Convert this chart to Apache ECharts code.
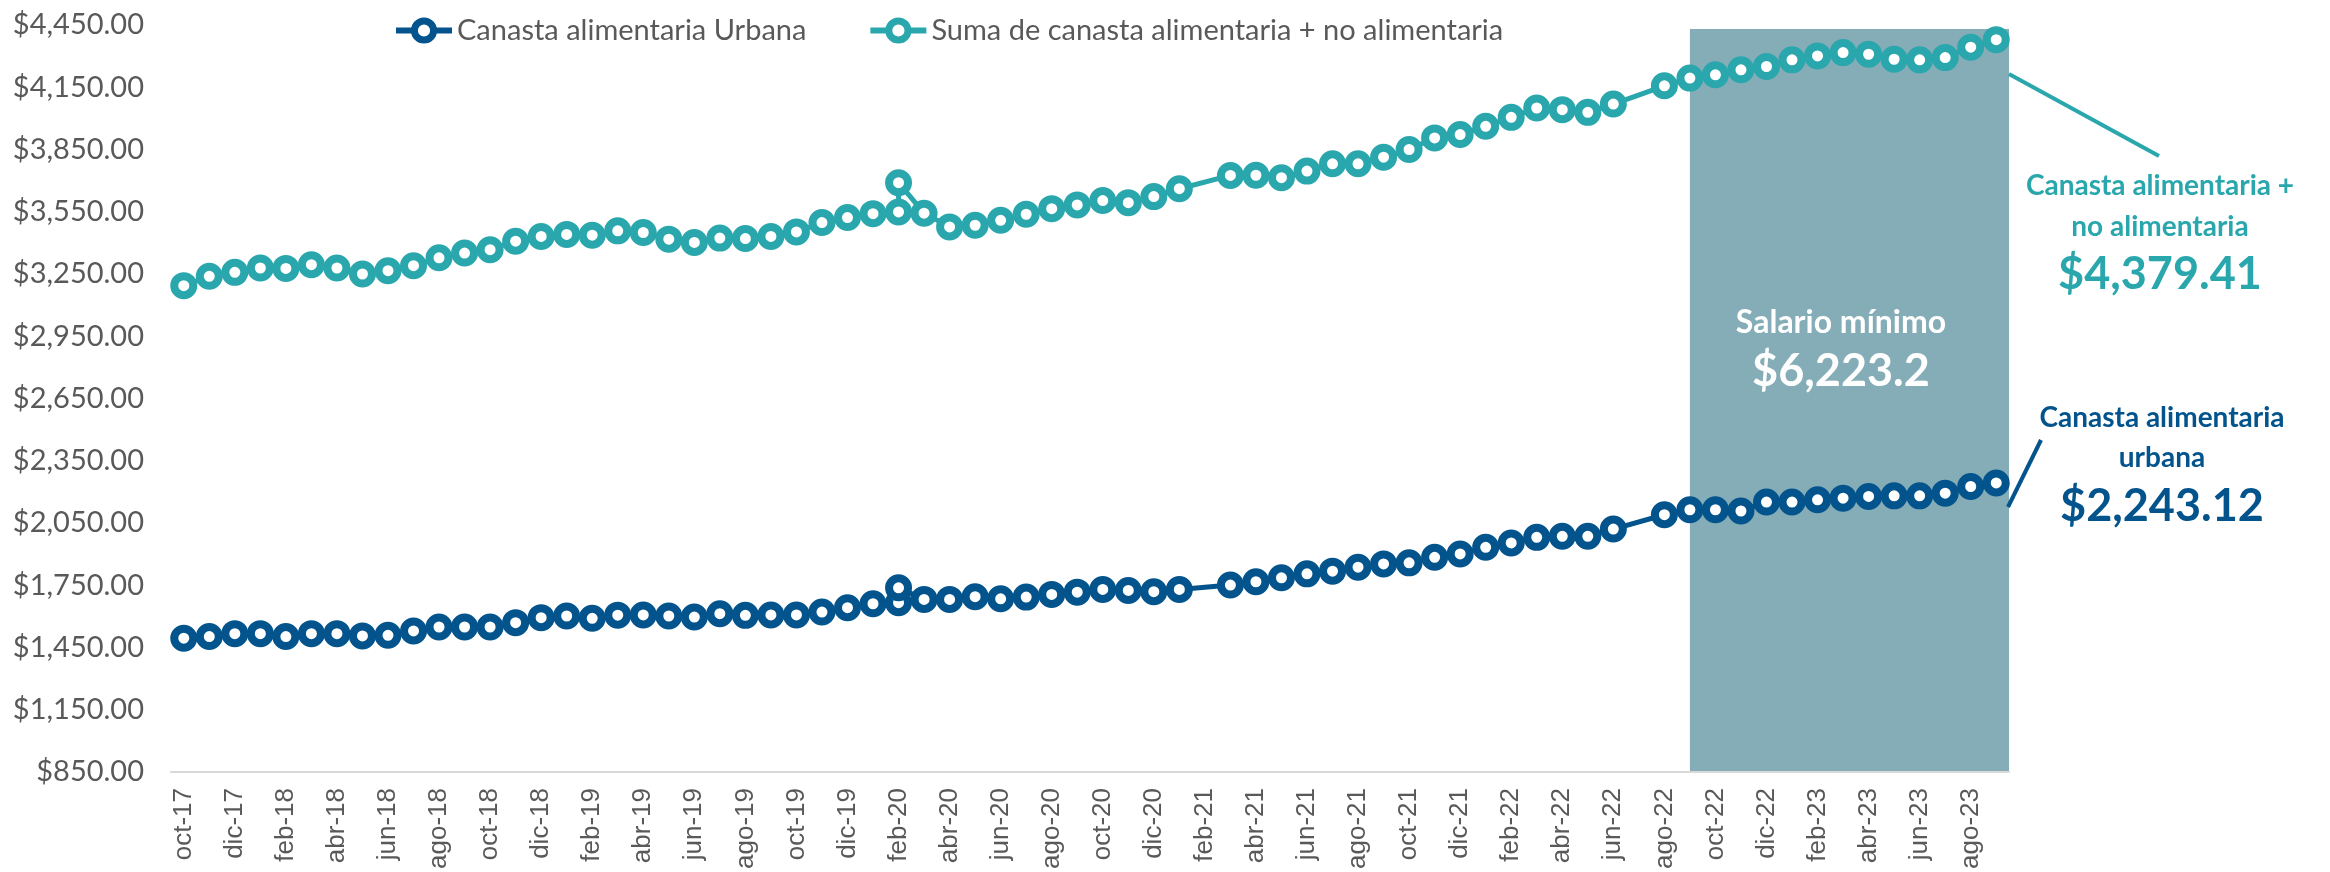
<!DOCTYPE html>
<html>
<head>
<meta charset="utf-8">
<script src="https://cdn.jsdelivr.net/npm/echarts@6/dist/echarts.min.js"></script>
<style>
html,body{margin:0;padding:0;background:#fff;}
#chart{width:2330px;height:872px;}
</style>
</head>
<body>
<div id="chart"></div>
<script>
var chart = echarts.init(document.getElementById('chart'));

// meses del eje (uno por categoria)
var meses = ['oct-17','nov-17','dic-17','ene-18','feb-18','mar-18','abr-18','may-18','jun-18','jul-18','ago-18','sep-18',
    'oct-18','nov-18','dic-18','ene-19','feb-19','mar-19','abr-19','may-19','jun-19','jul-19','ago-19','sep-19',
    'oct-19','nov-19','dic-19','ene-20','feb-20','mar-20','abr-20','may-20','jun-20','jul-20','ago-20','sep-20',
    'oct-20','nov-20','dic-20','ene-21','feb-21','mar-21','abr-21','may-21','jun-21','jul-21','ago-21','sep-21',
    'oct-21','nov-21','dic-21','ene-22','feb-22','mar-22','abr-22','may-22','jun-22','jul-22','ago-22','sep-22',
    'oct-22','nov-22','dic-22','ene-23','feb-23','mar-23','abr-23','may-23','jun-23','jul-23','ago-23','sep-23'];

// fecha de cada observacion (feb-20 aparece dos veces, faltan feb-21 y jul-22)
var fechas = ['oct-17','nov-17','dic-17','ene-18','feb-18','mar-18','abr-18','may-18','jun-18','jul-18','ago-18','sep-18',
    'oct-18','nov-18','dic-18','ene-19','feb-19','mar-19','abr-19','may-19','jun-19','jul-19','ago-19','sep-19',
    'oct-19','nov-19','dic-19','ene-20','feb-20','feb-20','mar-20','abr-20','may-20','jun-20','jul-20','ago-20','sep-20',
    'oct-20','nov-20','dic-20','ene-21','mar-21','abr-21','may-21','jun-21','jul-21','ago-21','sep-21',
    'oct-21','nov-21','dic-21','ene-22','feb-22','mar-22','abr-22','may-22','jun-22','ago-22','sep-22',
    'oct-22','nov-22','dic-22','ene-23','feb-23','mar-23','abr-23','may-23','jun-23','jul-23','ago-23','sep-23'];

var urbana = [1495,1503,1517,1517,1503,1517,1517,1506,1509,1530,1549,1549,
    1549,1570,1594,1602,1591,1606,1607,1602,1597,1613,1605,1607,
    1607,1621,1642,1661,1666,1738,1682,1682,1695,1685,1693,1706,1717,
    1730,1725,1719,1730,1751,1767,1786,1805,1818,1837,1853,
    1858,1885,1901,1933,1954,1981,1986,1986,2021,2090,2114,
    2114,2108,2151,2151,2162,2170,2178,2181,2181,2194,2226,2243.12];

var total = [3194,3239,3258,3279,3277,3295,3279,3250,3266,3290,3328,3351,
    3367,3408,3431,3441,3437,3458,3450,3418,3402,3423,3421,3431,
    3453,3498,3522,3541,3549,3690,3543,3477,3485,3509,3538,3565,3583,
    3604,3594,3623,3661,3725,3726,3714,3746,3781,3781,3813,
    3850,3906,3922,3962,4005,4050,4042,4029,4069,4157,4194,
    4210,4234,4250,4282,4301,4317,4309,4285,4282,4293,4343,4379.41];

var yMin = 850, yMax = 4450, yPaso = 300;
var inicioSalario = 'sep-22';
var topeSalario = 4431;

var azul = '#03548C';
var verde = '#2AA7AD';
var gris = '#595959';

function pares(vals){
    return fechas.map(function(f, i){ return [meses.indexOf(f), vals[i]]; });
}
function dinero(v){
    return '$' + v.toLocaleString('en-US', {minimumFractionDigits: 2, maximumFractionDigits: 2});
}

chart.setOption({
    backgroundColor: '#fff',
    animation: false,
    grid: {left: 171, right: 321, top: 25, bottom: 97, containLabel: false},
    legend: {
        top: 11, left: 388,
        itemWidth: 56, itemHeight: 24, itemGap: 61,
        lineStyle: {width: 6},
        itemStyle: {borderWidth: 7},
        textStyle: {fontFamily: 'Lato', fontSize: 29, color: gris},
        data: ['Canasta alimentaria Urbana', 'Suma de canasta alimentaria + no alimentaria']
    },
    xAxis: {
        type: 'category',
        data: meses,
        boundaryGap: true,
        axisLine: {lineStyle: {color: '#D9D9D9', width: 2}},
        axisTick: {show: false},
        axisLabel: {interval: 1, rotate: 90, margin: 16, color: gris, fontFamily: 'Liberation Sans', fontSize: 26}
    },
    yAxis: {
        type: 'value',
        min: yMin, max: yMax, interval: yPaso,
        axisLine: {show: false},
        axisTick: {show: false},
        splitLine: {show: false},
        axisLabel: {margin: 27, color: gris, fontFamily: 'Lato', fontSize: 29, formatter: dinero}
    },
    series: [
        {
            name: 'Canasta alimentaria Urbana',
            type: 'line',
            data: pares(urbana),
            symbol: 'circle', symbolSize: 19,
            showSymbol: true, showAllSymbol: true,
            lineStyle: {color: azul, width: 5},
            itemStyle: {color: '#fff', borderColor: azul, borderWidth: 8},
            z: 3
        },
        {
            name: 'Suma de canasta alimentaria + no alimentaria',
            type: 'line',
            data: pares(total),
            symbol: 'circle', symbolSize: 19,
            showSymbol: true, showAllSymbol: true,
            lineStyle: {color: verde, width: 5},
            itemStyle: {color: '#fff', borderColor: verde, borderWidth: 8},
            z: 3
        }
    ]
});

// sombreado del salario minimo, desde sep-22 hasta el borde derecho del area
var x0 = chart.convertToPixel({xAxisIndex: 0}, meses.indexOf(inicioSalario));
var paso = chart.convertToPixel({xAxisIndex: 0}, 1) - chart.convertToPixel({xAxisIndex: 0}, 0);
var x1 = chart.convertToPixel({xAxisIndex: 0}, meses.length - 1) + paso / 2;
var yTop = chart.convertToPixel({yAxisIndex: 0}, topeSalario);
var yBot = chart.convertToPixel({yAxisIndex: 0}, yMin) - 1;

var negrita = function(size){ return 'bold ' + size + 'px Lato'; };

chart.setOption({
    graphic: [
        {type: 'rect', z: 1, shape: {x: x0, y: yTop, width: x1 - x0, height: yBot - yTop}, style: {fill: '#85ADB7'}},
        {type: 'text', z: 4, style: {text: 'Salario mínimo', x: 1841, y: 323, fill: '#fff', font: negrita(32), align: 'center', verticalAlign: 'middle'}},
        {type: 'text', z: 4, style: {text: '$6,223.2', x: 1841, y: 371, fill: '#fff', font: negrita(45), align: 'center', verticalAlign: 'middle'}},
        // etiqueta canasta total
        {type: 'line', z: 4, shape: {x1: 2009, y1: 74, x2: 2159, y2: 156}, style: {stroke: verde, lineWidth: 4}},
        {type: 'text', z: 4, style: {text: 'Canasta alimentaria +', x: 2160, y: 186, fill: verde, font: negrita(28), align: 'center', verticalAlign: 'middle'}},
        {type: 'text', z: 4, style: {text: 'no alimentaria', x: 2160, y: 227, fill: verde, font: negrita(28), align: 'center', verticalAlign: 'middle'}},
        {type: 'text', z: 4, style: {text: dinero(total[total.length - 1]), x: 2160, y: 274, fill: verde, font: negrita(45), align: 'center', verticalAlign: 'middle'}},
        // etiqueta canasta urbana
        {type: 'line', z: 4, shape: {x1: 2041, y1: 440, x2: 2008, y2: 507}, style: {stroke: azul, lineWidth: 4}},
        {type: 'text', z: 4, style: {text: 'Canasta alimentaria', x: 2162, y: 418, fill: azul, font: negrita(28), align: 'center', verticalAlign: 'middle'}},
        {type: 'text', z: 4, style: {text: 'urbana', x: 2162, y: 458, fill: azul, font: negrita(28), align: 'center', verticalAlign: 'middle'}},
        {type: 'text', z: 4, style: {text: dinero(urbana[urbana.length - 1]), x: 2162, y: 506, fill: azul, font: negrita(45), align: 'center', verticalAlign: 'middle'}}
    ]
});

window.addEventListener('resize', function(){
    chart.resize();
});
</script>
</body>
</html>
